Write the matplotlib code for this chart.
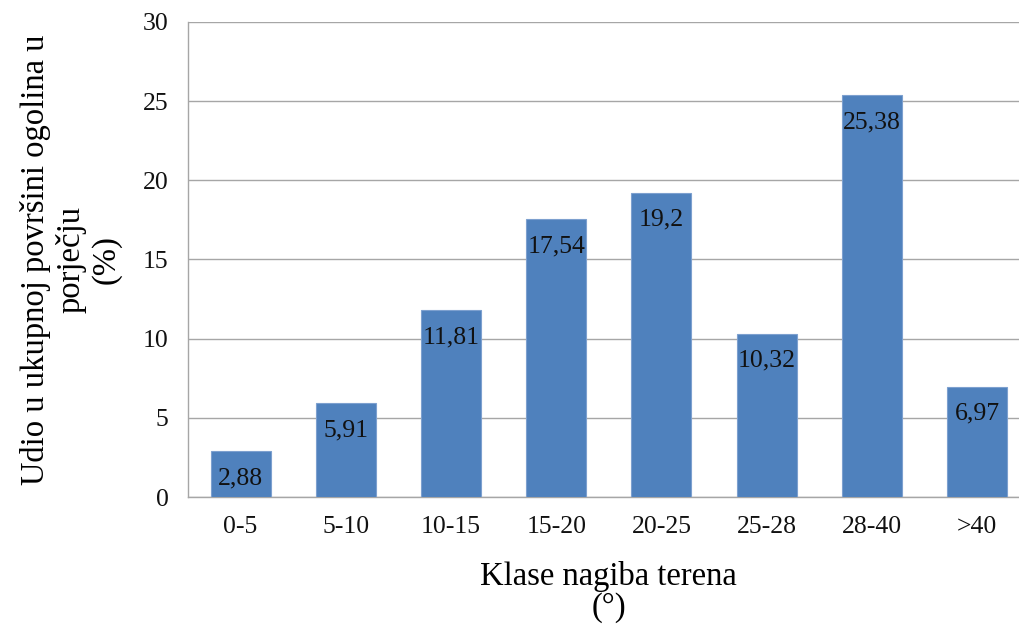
import matplotlib.pyplot as plt
import numpy as np

CATEGORIES = ["0-5", "5-10", "10-15", "15-20", "20-25", "25-28", "28-40", ">40"]
VALUES = [2.88, 5.91, 11.81, 17.54, 19.2, 10.32, 25.38, 6.97]
VALUE_LABELS = ["2,88", "5,91", "11,81", "17,54", "19,2", "10,32", "25,38", "6,97"]
Y_TICKS = [0, 5, 10, 15, 20, 25, 30]

plt.rcParams["font.family"] = ["Liberation Serif", "DejaVu Serif"]

fig = plt.figure(figsize=(10.19, 6.26), dpi=100)
# plot area runs slightly past the right edge of the picture, like the original
ax = fig.add_axes([0.1845, 0.206, 0.826, 0.759])

x = np.arange(len(CATEGORIES))
bars = ax.bar(x, VALUES, width=0.57, color="#4F81BD", edgecolor="#7DA0CF",
              linewidth=0.8, zorder=3)

for bar, lab in zip(bars, VALUE_LABELS):
    ax.annotate(lab, (bar.get_x() + bar.get_width() / 2, bar.get_height()),
                xytext=(0, -11.5), textcoords="offset points",
                ha="center", va="top", fontsize=18.5, color="#111111", zorder=4)

ax.set_xlim(-0.5, len(CATEGORIES) - 0.5)
ax.set_ylim(0, 30)
ax.set_yticks(Y_TICKS)
ax.set_xticks(x, labels=CATEGORIES)
ax.tick_params(axis="both", length=0, labelsize=18.5, colors="#111111")
ax.tick_params(axis="y", pad=14)
ax.tick_params(axis="x", pad=14)

ax.grid(axis="y", color="#A6A6A6", linewidth=1.0, zorder=0)
for side in ["top", "right"]:
    ax.spines[side].set_visible(False)
for side in ["left", "bottom"]:
    ax.spines[side].set_color("#A6A6A6")
    ax.spines[side].set_linewidth(1.0)

ax.set_xlabel("Klase nagiba terena\n(°)", fontsize=23.5, labelpad=16, linespacing=1.0)
ax.set_ylabel("Udio u ukupnoj površini ogolina u\nporječju\n(%)", fontsize=23.5,
              labelpad=15, linespacing=1.2)

fig.savefig("out.png", dpi=100)
